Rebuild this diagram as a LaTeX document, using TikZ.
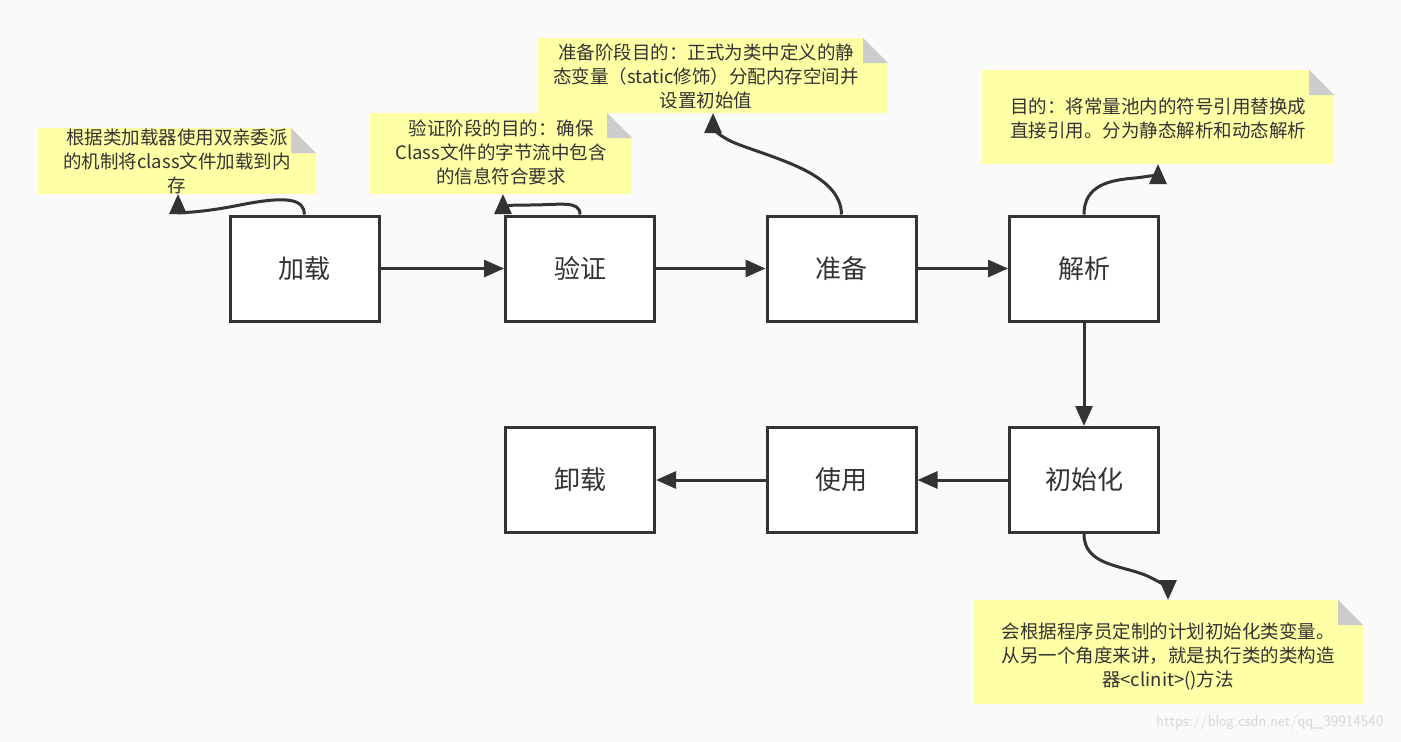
\documentclass[tikz,border=0pt]{standalone}
\usepackage{fontspec}
\setmainfont{Noto Sans CJK SC}
\usetikzlibrary{arrows.meta}
\definecolor{ink}{HTML}{333333}
\definecolor{note}{HTML}{FFFFA6}
\definecolor{fold}{HTML}{CCCCCC}
\begin{document}
\begin{tikzpicture}[x=1pt,y=-1pt,
 box/.style={draw=ink,line width=3pt,fill=white,minimum width=149pt,minimum height=105pt,font=\fontsize{26}{30}\selectfont,text=ink},
 arr/.style={draw=ink,line width=3pt,-{Triangle[length=20pt,width=17pt]}},
 ntext/.style={font=\fontsize{18.5}{24}\selectfont,text=ink,align=center}]
\fill[fill={rgb,255:red,250;green,250;blue,250}] (0,0) rectangle (1401,742);
\useasboundingbox (0,0) rectangle (1401,742);
\newcommand\mynote[5]{% x1 y1 x2 y2 name
 \fill[note] (#1,#2) -- (#3-25,#2) -- (#3,#2+25) -- (#3,#4) -- (#1,#4) -- cycle;
 \fill[fold] (#3-25,#2) -- (#3,#2+25) -- (#3-25,#2+25) -- cycle;
 \coordinate (#5) at ({(#1+#3)/2},{(#2+#4)/2});}
\mynote{38}{128}{316}{194}{n1}
\mynote{370}{113}{632}{194}{n2}
\mynote{537}{38}{888}{113}{n3}
\mynote{981}{70}{1334}{164}{n4}
\mynote{974}{600}{1363}{704}{n5}
\node[ntext] at (177,161) {根据类加载器使用双亲委派\\的机制将class文件加载到内\\存};
\node[ntext] at (501,152) {验证阶段的目的：确保\\Class文件的字节流中包含\\的信息符合要求};
\node[ntext] at (706,76) {准备阶段目的：正式为类中定义的静\\态变量（static修饰）分配内存空间并\\设置初始值};
\node[ntext] at (1158,118) {目的：将常量池内的符号引用替换成\\直接引用。分为静态解析和动态解析};
\node[ntext] at (1168,656) {会根据程序员定制的计划初始化类变量。\\从另一个角度来讲，就是执行类的类构造\\器<clinit>()方法};
\node[box] (jz) at (304.5,268.5) {加载};
\node[box] (yz) at (580,268.5) {验证};
\node[box] (zb) at (841.5,268.5) {准备};
\node[box] (jx) at (1084,268.5) {解析};
\node[box] (cs) at (1084,480) {初始化};
\node[box] (sy) at (841.5,480) {使用};
\node[box] (xz) at (580,480) {卸载};
\draw[arr] (jz) -- (yz);
\draw[arr] (yz) -- (zb);
\draw[arr] (zb) -- (jx);
\draw[arr] (jx) -- (cs);
\draw[arr] (cs) -- (sy);
\draw[arr] (sy) -- (xz);
\coordinate (t1) at (178,194);
\coordinate (t2) at (503,194);
\coordinate (t3) at (713,113);
\coordinate (t4) at (1158,164);
\coordinate (t5) at (1168,600);
\draw[arr] (jz.north) .. controls (304,200) and (290,195) .. (240,205) .. controls (195,214) and (178,212) .. (t1);
\draw[arr] (yz.north) .. controls (580,200) and (560,205) .. (530,205) .. controls (505,205) and (503,205) .. (t2);
\draw[arr] (zb.north) .. controls (841,175) and (780,160) .. (740,145) .. controls (715,136) and (713,125) .. (t3);
\draw[arr] (jx.north) .. controls (1084,185) and (1110,180) .. (1135,178) .. controls (1155,176) and (1158,172) .. (t4);
\draw[arr] (cs.south) .. controls (1084,565) and (1120,565) .. (1145,575) .. controls (1162,582) and (1168,590) .. (t5);
\node[font=\fontsize{16}{18}\selectfont\sffamily,text={rgb,255:red,215;green,215;blue,215}] at (1270,722) {https://blog.csdn.net/qq\_39914540};
\end{tikzpicture}
\end{document}
